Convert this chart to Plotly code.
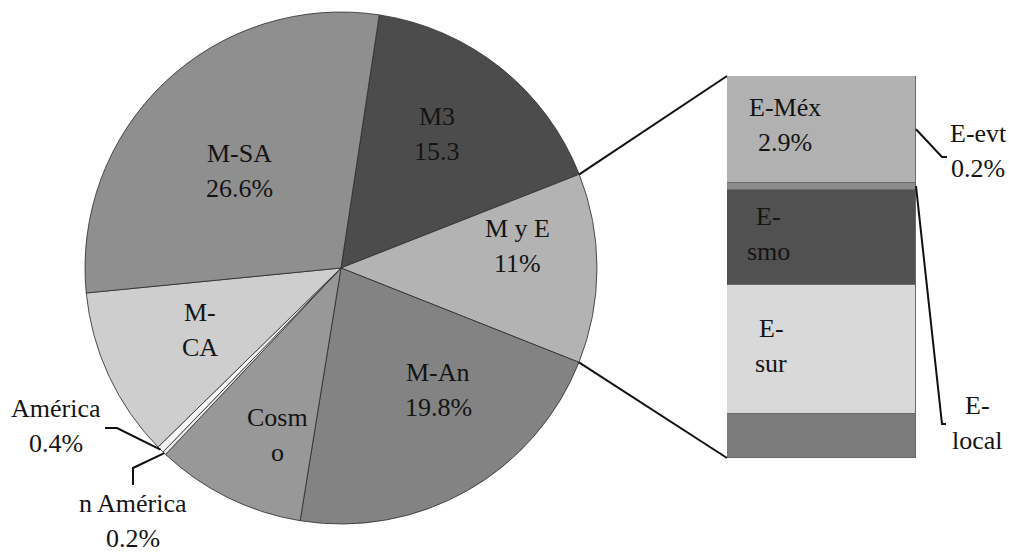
import math
import plotly.graph_objects as go

# Main pie, listed clockwise from the top
pie_labels = ["M3", "M y E", "M-An", "Cosmo", "n América", "América", "M-CA", "M-SA"]
pie_values = [15.3, 11.0, 19.8, 8.7, 0.2, 0.4, 9.9, 26.6]
pie_text = [["M3", "15.3"], ["M y E", "11%"], ["M-An", "19.8%"], ["Cosm", "o"], [], [],
            ["M-", "CA"], ["M-SA", "26.6%"]]

# Breakdown of the "M y E" slice, listed top to bottom
bar_labels = ["E-Méx", "E-evt", "E-smo", "E-sur", "E-local"]
bar_values = [2.9, 0.2, 2.6, 3.5, 1.2]
bar_text = [["E-Méx", "2.9%"], [], ["E-", "smo"], ["E-", "sur"], []]

# Labels set outside the marks, with leader lines
outer_pie_labels = {"América": ["América", "0.4%"], "n América": ["n América", "0.2%"]}
outer_bar_labels = {"E-evt": ["E-evt", "0.2%"], "E-local": ["E-", "local"]}

# ---- styling / geometry ----
W, H = 1009, 554
CX, CY, R = 341, 268, 256          # pie centre and radius, px
ROTATION = 8.6                     # start angle of first slice, deg clockwise from 12 o'clock
BAR_X0, BAR_X1, BAR_TOP, BAR_BOT = 727, 916, 76, 458
SERIF = "Liberation Serif"
FONT_SIZE = 26
LINE_GAP = 35
TEXT_COLOR = "#141414"

pie_colors = {
    "M3": "#4c4c4c", "M y E": "#b3b3b3", "M-An": "#838383", "Cosmo": "#989898",
    "n América": "#ececec", "América": "#f7f7f7", "M-CA": "#cecece", "M-SA": "#8f8f8f",
}
bar_colors = {
    "E-Méx": "#b1b1b1", "E-evt": "#8c8c8c", "E-smo": "#515151",
    "E-sur": "#d9d9d9", "E-local": "#7b7b7b",
}
# label placement inside slices: (angle offset from slice middle in deg, radius fraction)
inside_place = {
    "M3": (-3.0, 0.645), "M y E": (-7.2, 0.695), "M-An": (-8.9, 0.61),
    "Cosmo": (-5.4, 0.70), "M-CA": (1.3, 0.60), "M-SA": (-2.7, 0.547),
}
# outer label centres and leader elbows (px)
outer_pos = {
    "América": ((56, 426), [(105, 428), (117, 428)]),
    "n América": ((133, 521), [(133, 485), (133, 468)]),
    "E-evt": ((978, 151), [(947, 157), (942, 157)]),
    "E-local": ((977, 423), [(946, 424), (942, 424)]),
}
# segment of the bar that each outer bar label's leader reaches
bar_leader_target = {"E-evt": "E-Méx", "E-local": "E-evt"}


def paper(x, y):
    return x / W, 1 - y / H


def pie_point(angle_deg, rf=1.0):
    a = math.radians(angle_deg)
    return CX + R * rf * math.sin(a), CY - R * rf * math.cos(a)


def label(x_px, y_px, lines):
    """One annotation per text line, block centred on (x_px, y_px)."""
    out = []
    n = len(lines)
    for i, line in enumerate(lines):
        ly = y_px + (i - (n - 1) / 2) * LINE_GAP
        x, y = paper(x_px, ly)
        out.append(dict(x=x, y=y, xref="paper", yref="paper", text=line, showarrow=False,
                        font=dict(family=SERIF, size=FONT_SIZE, color=TEXT_COLOR),
                        xanchor="center", yanchor="middle"))
    return out


# slice angles
total = sum(pie_values)
angles = {}
cum = 0.0
for lab, v in zip(pie_labels, pie_values):
    a0 = ROTATION + cum / total * 360
    cum += v
    a1 = ROTATION + cum / total * 360
    angles[lab] = (a0, a1)

# bar segment positions (px), stacked from the top
bar_total = sum(bar_values)
bar_seg = {}
acc = 0.0
for lab, v in zip(bar_labels, bar_values):
    top = BAR_TOP + acc / bar_total * (BAR_BOT - BAR_TOP)
    acc += v
    bot = BAR_TOP + acc / bar_total * (BAR_BOT - BAR_TOP)
    bar_seg[lab] = (top, bot)

fig = go.Figure()

px0, py1 = paper(CX - R, CY - R)
px1, py0 = paper(CX + R, CY + R)
fig.add_trace(go.Pie(
    labels=pie_labels, values=pie_values, sort=False, direction="clockwise",
    rotation=ROTATION, textinfo="none", hoverinfo="label+value",
    marker=dict(colors=[pie_colors[l] for l in pie_labels],
                line=dict(color="#2a2a2a", width=0.8)),
    domain=dict(x=[px0, px1], y=[py0, py1]), showlegend=False,
))

# stacked bar: add bottom segment first
for lab, v in reversed(list(zip(bar_labels, bar_values))):
    fig.add_trace(go.Bar(
        x=[0], y=[v], width=1, name=lab, xaxis="x2", yaxis="y2",
        marker=dict(color=bar_colors[lab], line=dict(color="#6a6a6a", width=1)),
        showlegend=False, hoverinfo="name+y",
    ))

shapes = []
# connector lines from the "M y E" slice edges to the bar corners
a0, a1 = angles["M y E"]
for ang, by in ((a0, BAR_TOP), (a1, BAR_BOT)):
    x0, y0 = paper(*pie_point(ang))
    x1, y1 = paper(BAR_X0, by)
    shapes.append(dict(type="line", xref="paper", yref="paper", x0=x0, y0=y0, x1=x1, y1=y1,
                       line=dict(color="#111111", width=2)))


def leader(points):
    pts = [paper(x, y) for x, y in points]
    d = "M " + " L ".join(f"{x:.5f},{y:.5f}" for x, y in pts)
    return dict(type="path", xref="paper", yref="paper", path=d,
                line=dict(color="#111111", width=2))


annotations = []
# inside pie labels
for lab, lines in zip(pie_labels, pie_text):
    if not lines:
        continue
    s0, s1 = angles[lab]
    off, rf = inside_place[lab]
    annotations += label(*pie_point((s0 + s1) / 2 + off, rf), lines)

# outer pie labels
for lab, lines in outer_pie_labels.items():
    (lx, ly), elbow = outer_pos[lab]
    s0, s1 = angles[lab]
    tip = pie_point((s0 + s1) / 2)
    shapes.append(leader(elbow + [tip]))
    annotations += label(lx, ly, lines)

# labels inside bar segments
bar_text_x = {"E-Méx": 785, "E-smo": 768, "E-sur": 771}
for lab, lines in zip(bar_labels, bar_text):
    if not lines:
        continue
    t, b = bar_seg[lab]
    annotations += label(bar_text_x[lab], (t + b) / 2 - 4, lines)

# outer bar labels
for lab, lines in outer_bar_labels.items():
    (lx, ly), elbow = outer_pos[lab]
    t, b = bar_seg[bar_leader_target[lab]]
    tip = (BAR_X1, (t + b) / 2)
    shapes.append(leader([tip] + elbow[::-1]))
    annotations += label(lx, ly, lines)

fig.update_layout(
    width=W, height=H, margin=dict(l=0, r=0, t=0, b=0),
    font=dict(family=SERIF, size=FONT_SIZE, color=TEXT_COLOR),
    paper_bgcolor="white", plot_bgcolor="rgba(0,0,0,0)",
    barmode="stack", bargap=0,
    xaxis2=dict(domain=[BAR_X0 / W, BAR_X1 / W], range=[-0.5, 0.5], visible=False,
                anchor="y2", fixedrange=True),
    yaxis2=dict(domain=[1 - BAR_BOT / H, 1 - BAR_TOP / H], range=[0, bar_total],
                visible=False, anchor="x2", fixedrange=True),
    xaxis=dict(visible=False), yaxis=dict(visible=False),
    shapes=shapes, annotations=annotations, showlegend=False,
)

fig.write_html("out.html")
